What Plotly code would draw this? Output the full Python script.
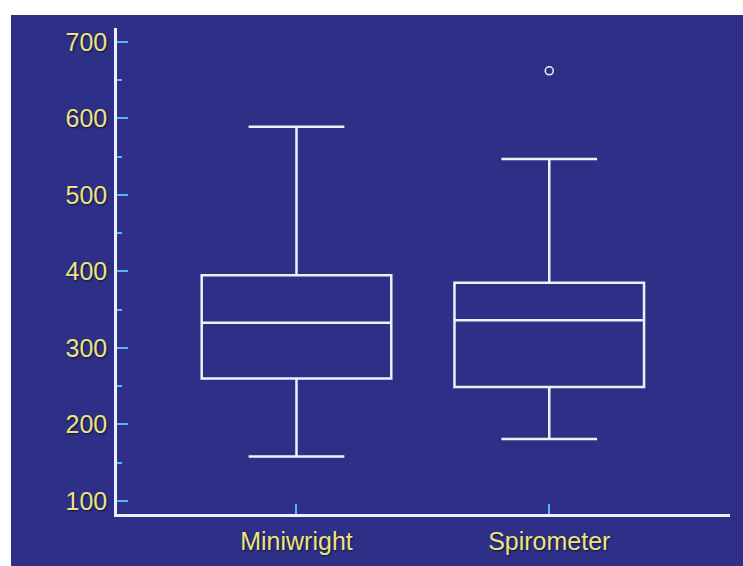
import plotly.graph_objects as go

categories = ["Miniwright", "Spirometer"]
lower_whisker = [158, 181]
q1_values = [260, 249]
medians = [333, 336]
q3_values = [395, 385]
upper_whisker = [589, 547]
outlier_cats = ["Spirometer"]
outlier_values = [662]
y_tickvals = [100, 200, 300, 400, 500, 600, 700]

BG = "#2e3088"
LINE = "#eef0fa"
TICK = "#5ab4ee"
LABEL = "#ece482"

fig = go.Figure()
for i, c in enumerate(categories):
    fig.add_trace(go.Box(
        x=[c], q1=[q1_values[i]], median=[medians[i]], q3=[q3_values[i]],
        lowerfence=[lower_whisker[i]], upperfence=[upper_whisker[i]],
        width=0.75, whiskerwidth=0.505, boxpoints=False,
        line=dict(color=LINE, width=2.5), fillcolor="rgba(0,0,0,0)",
        showlegend=False, hoverinfo="skip",
    ))

fig.add_trace(go.Scatter(
    x=outlier_cats, y=outlier_values, mode="markers",
    marker=dict(symbol="circle-open", size=8, color=LINE, line=dict(width=1.5)),
    showlegend=False, hoverinfo="skip",
))

l, r, t, b = 117, 13, 28, 52
W, H = 743, 566
pw, ph = W - l - r, H - t - b

fig.add_shape(type="rect", xref="paper", yref="paper",
              x0=(11 - l) / pw, x1=1.2, y0=-0.3, y1=(H - b - 15) / ph,
              fillcolor=BG, line=dict(width=0), layer="below")

font = dict(family="Liberation Sans, Arial, sans-serif", size=25, color=LABEL,
            shadow="1px 1px 2px #10103a")

fig.update_layout(
    width=W, height=H,
    margin=dict(l=l, r=r, t=t, b=b),
    paper_bgcolor="white", plot_bgcolor=BG,
    xaxis=dict(type="category", categoryorder="array", categoryarray=categories,
               range=[-0.71, 1.715], showline=True, linecolor=LINE, linewidth=2.5,
               ticks="inside", ticklen=10, tickwidth=2, tickcolor=TICK,
               showgrid=False, zeroline=False, tickfont=font, ticklabelstandoff=3),
    yaxis=dict(range=[83, 718], tickvals=y_tickvals, showline=True, linecolor=LINE,
               linewidth=2.5, ticks="inside", ticklen=11, tickwidth=2, tickcolor=TICK,
               minor=dict(dtick=50, tick0=0, ticks="inside", ticklen=5, tickwidth=2,
                          tickcolor=TICK, showgrid=False),
               showgrid=False, zeroline=False, tickfont=font, ticklabelstandoff=2),
)

fig.write_html("out.html", config={"displayModeBar": False},
               post_script="document.body.style.margin='0';document.body.style.padding='0';")
